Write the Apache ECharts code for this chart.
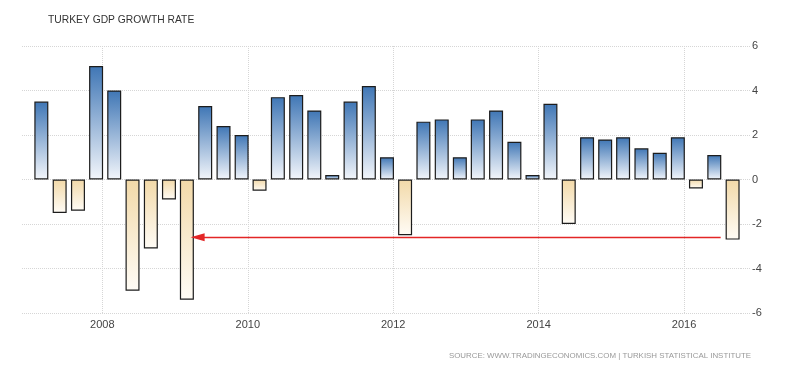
<!DOCTYPE html>
<html>
<head>
<meta charset="utf-8">
<script src="https://cdn.jsdelivr.net/npm/echarts@6/dist/echarts.min.js"></script>
<style>html,body{margin:0;padding:0;background:#fff}#c{width:800px;height:373px}</style>
</head>
<body>
<div id="c"></div>
<script>
// Quarterly periods (2007Q1 .. 2016Q3)
const quarters = [
  '2007Q1','2007Q2','2007Q3','2007Q4',
  '2008Q1','2008Q2','2008Q3','2008Q4',
  '2009Q1','2009Q2','2009Q3','2009Q4',
  '2010Q1','2010Q2','2010Q3','2010Q4',
  '2011Q1','2011Q2','2011Q3','2011Q4',
  '2012Q1','2012Q2','2012Q3','2012Q4',
  '2013Q1','2013Q2','2013Q3','2013Q4',
  '2014Q1','2014Q2','2014Q3','2014Q4',
  '2015Q1','2015Q2','2015Q3','2015Q4',
  '2016Q1','2016Q2','2016Q3'
];
// GDP growth rate, % QoQ
const growth = [
  3.5,-1.5,-1.4,5.1,
  4.0,-5.0,-3.1,-0.9,
  -5.4,3.3,2.4,2.0,
  -0.5,3.7,3.8,3.1,
  0.2,3.5,4.2,1.0,
  -2.5,2.6,2.7,1.0,
  2.7,3.1,1.7,0.2,
  3.4,-2.0,1.9,1.8,
  1.9,1.4,1.2,1.9,
  -0.4,1.1,-2.7
];
const yTicks = [-6,-4,-2,0,2,4,6];
const xRange = ['2006-12-29','2016-09-08'];
// Annotation arrow (date, value)
const arrowFrom = ['2016-07-03', -2.6];
const arrowTo = ['2009-04-24', -2.6];

const titleText = 'TURKEY GDP GROWTH RATE';
const sourceText = 'SOURCE: WWW.TRADINGECONOMICS.COM | TURKISH STATISTICAL INSTITUTE';

function quarterDate(q) {
  const y = q.slice(0,4);
  const m = parseInt(q.slice(5),10)*3;
  return y + '-' + String(m).padStart(2,'0') + '-01';
}
function grad(v) {
  const c = v >= 0 ? ['#3f76b5','#f3f6fb'] : ['#f2d9a8','#fffcf6'];
  return {type:'linear',x:0,y:0,x2:0,y2:1,colorStops:[{offset:0,color:c[0]},{offset:1,color:c[1]}]};
}
const seriesData = quarters.map((q,i)=>({
  value:[quarterDate(q), growth[i]],
  itemStyle:{color:grad(growth[i])}
}));

const chart = echarts.init(document.getElementById('c'), null, {renderer:'canvas'});
const FONT = 'Liberation Sans';
const gridStyle = {color:'#d6d6d6',type:'dotted',width:1};
chart.setOption({
  animation:false,
  backgroundColor:'#ffffff',
  title:[
    {text:titleText,left:43,top:10,textStyle:{fontFamily:FONT,fontSize:10.3,fontWeight:'normal',color:'#333'}},
    {text:sourceText,right:44,top:347,textStyle:{fontFamily:FONT,fontSize:7.9,fontWeight:'normal',color:'#999'}}
  ],
  grid:{left:22,right:59,top:46,bottom:60},
  xAxis:{
    type:'time',
    min:xRange[0], max:xRange[1],
    minInterval:2*365*86400000,
    maxInterval:2*366*86400000,
    axisLine:{show:false},
    axisTick:{show:false},
    axisLabel:{fontFamily:FONT,fontSize:11,color:'#444',margin:6,
      formatter:(v)=>String(new Date(v).getFullYear()),showMinLabel:false,showMaxLabel:false},
    splitLine:{show:true,showMinLine:false,showMaxLine:false,lineStyle:gridStyle}
  },
  yAxis:{
    type:'value',position:'right',
    min:yTicks[0],max:yTicks[yTicks.length-1],interval:2,
    axisLine:{show:false},
    axisTick:{show:true,inside:false,length:9,lineStyle:gridStyle},
    axisLabel:{fontFamily:FONT,fontSize:11,color:'#444',margin:11},
    splitLine:{show:true,lineStyle:gridStyle}
  },
  series:[{
    type:'bar',
    barWidth:14,
    data:seriesData,
    itemStyle:{borderColor:'#1c1c1c',borderWidth:1.2},
    markLine:{
      silent:true,
      symbol:['none','triangle'],
      symbolSize:[8,14],
      label:{show:false},
      lineStyle:{color:'#e32626',width:1.3,type:'solid',opacity:1},
      itemStyle:{color:'#e32626'},
      data:[[{coord:arrowFrom,lineStyle:{color:'#e32626'}},{coord:arrowTo,lineStyle:{color:'#e32626'}}]]
    }
  }]
});
</script>
</body>
</html>
